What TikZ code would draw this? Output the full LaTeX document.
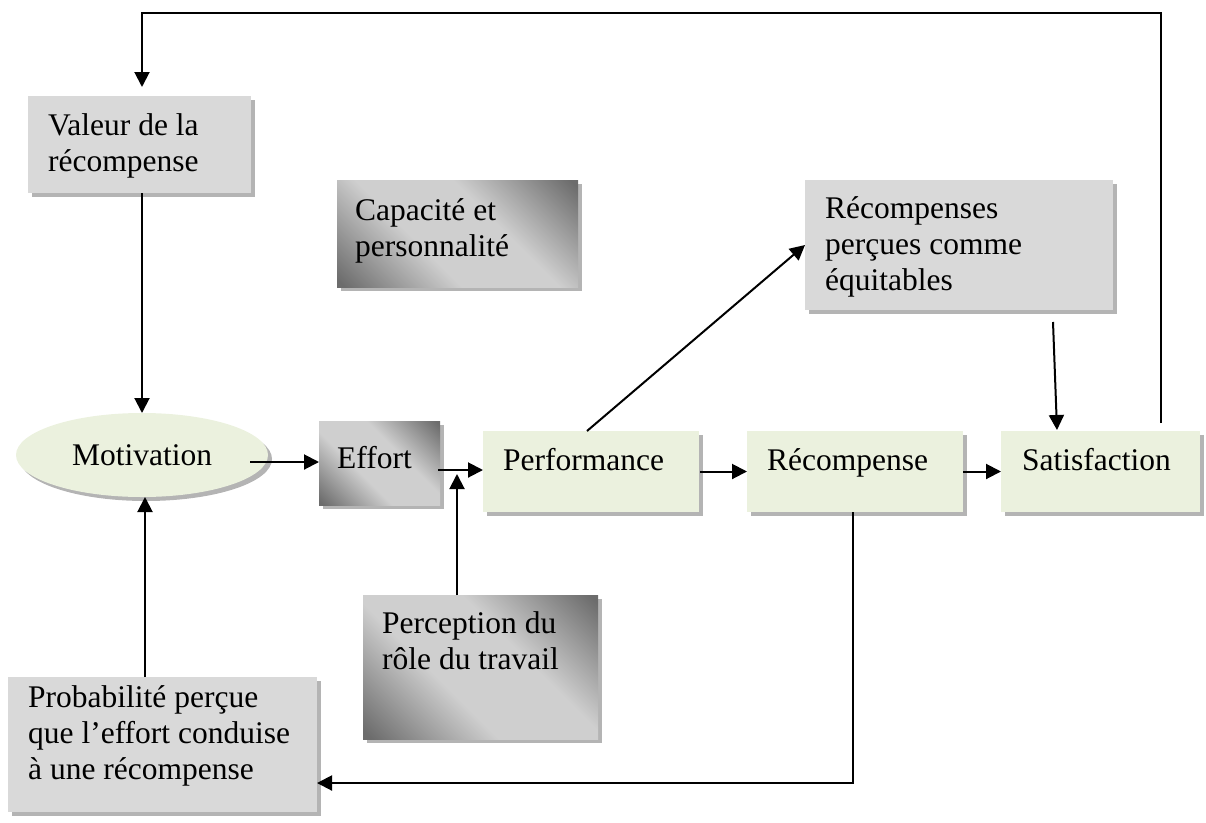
\documentclass[tikz,border=0pt]{standalone}
\usepackage{fontspec}
\setmainfont{Liberation Serif}
\usetikzlibrary{arrows.meta,calc,shapes.geometric,shadows}

\definecolor{boxgray}{HTML}{D9D9D9}
\definecolor{boxgreen}{HTML}{EBF1DE}
\definecolor{shadowgray}{HTML}{B4B4B4}
\definecolor{gradlight}{HTML}{CFCFCF}
\definecolor{graddark}{HTML}{6C6C6C}

% light band along the box diagonal, dark corners
\pgfdeclareverticalshading{cornershade}{100bp}{%
  color(0bp)=(graddark); color(16bp)=(graddark); color(40bp)=(gradlight);
  color(60bp)=(gradlight); color(84bp)=(graddark); color(100bp)=(graddark)}

\newcommand{\boxlines}[1]{\begin{tabular}[t]{@{}l@{}}#1\end{tabular}}

\tikzset{
  plate/.style={anchor=north west, inner sep=0pt, outer sep=0pt,
    general shadow={fill=shadowgray, shadow xshift=4pt, shadow yshift=-4pt}},
  graybox/.style={plate, fill=boxgray},
  greenbox/.style={plate, fill=boxgreen},
  gradbox/.style={plate, shading=cornershade, shading angle=-45},
  boxtext/.style={anchor=base west, inner sep=0pt,
    font=\fontsize{31.5}{36}\selectfont},
  arr/.style={line width=2pt, -{Triangle[length=15pt,width=15pt]}},
}

\begin{document}
\begin{tikzpicture}[x=1pt,y=-1pt]
\useasboundingbox (0,0) rectangle (1206,822);

% boxes
\node[graybox, minimum width=223pt, minimum height=97pt]  (valeur)  at (28,96)   {};
\node[gradbox, minimum width=241pt, minimum height=107pt] (capacite) at (337,180) {};
\node[graybox, minimum width=308pt, minimum height=130pt] (recperc) at (805,180)  {};
\node[ellipse, fill=boxgreen, minimum width=252pt, minimum height=84pt,
      inner sep=0pt, outer sep=0pt,
      general shadow={fill=shadowgray, shadow xshift=4pt, shadow yshift=-4pt},
      font=\fontsize{31.5}{36}\selectfont] (motiv) at (142,455) {Motivation};
\node[gradbox, minimum width=121pt, minimum height=84pt]  (effort)  at (319,421)  {};
\node[greenbox, minimum width=216pt, minimum height=81pt] (perf)    at (483,431)  {};
\node[greenbox, minimum width=216pt, minimum height=81pt] (recomp)  at (747,431)  {};
\node[greenbox, minimum width=199pt, minimum height=81pt] (satis)   at (1001,431) {};
\node[gradbox, minimum width=235pt, minimum height=144pt] (percep)  at (363,595)  {};
\node[graybox, minimum width=309pt, minimum height=135pt] (proba)   at (8,677)    {};

% box texts
\node[boxtext] (valeurtxt) at ($(valeur.north west)+(20,39)$) {\boxlines{Valeur de la\\récompense}};
\node[boxtext] (capacitetxt) at ($(capacite.north west)+(18,40)$) {\boxlines{Capacité et\\personnalité}};
\node[boxtext] (recperctxt) at ($(recperc.north west)+(20,38)$) {\boxlines{Récompenses\\perçues comme\\équitables}};
\node[boxtext] (efforttxt) at ($(effort.north west)+(18,47)$) {Effort};
\node[boxtext] (perftxt) at ($(perf.north west)+(20,39)$) {Performance};
\node[boxtext] (recomptxt) at ($(recomp.north west)+(20,39)$) {Récompense};
\node[boxtext] (satistxt) at ($(satis.north west)+(21,39)$) {Satisfaction};
\node[boxtext] (perceptxt) at ($(percep.north west)+(19,38)$) {\boxlines{Perception du\\rôle du travail}};
\node[boxtext] (probatxt) at ($(proba.north west)+(20,30)$) {\boxlines{Probabilité perçue\\que l’effort conduise\\à une récompense}};

% feedback loop from satisfaction back to the value of the reward
\coordinate (fbstart) at ($(satis.north west)+(160,-8)$);
\coordinate (fbtr) at (fbstart |- 0,13);
\coordinate (fbtl) at (142,13);
\draw[arr] (fbstart) -- (fbtr) -- (fbtl) -- ($(valeur.north -| fbtl)+(0,-9)$);

% value of reward -> motivation
\draw[arr] (valeur.south -| motiv.north) -- (motiv.north);

% performance -> perceived equitable rewards
\draw[arr] ($(perf.north west)+(104,0)$) -- (recperc.west);

% perceived equitable rewards -> satisfaction
\draw[arr] ($(recperc.south west)+(248,12)$) -- ($(satis.north west)+(56,-1)$);

% main chain
\coordinate (m1) at ($(motiv.east)+(-18,7)$);
\draw[arr] (m1) -- (m1 -| effort.west);
\coordinate (e1) at ($(effort.east)+(-2,7)$);
\draw[arr] (e1) -- (e1 -| perf.west);
\coordinate (p1) at ($(percep.north west)+(94,0)$);
\draw[arr] (p1) -- ($(p1)+(0,-121)$);
\draw[arr] ($(perf.east)+(1,0)$) -- (recomp.west);
\draw[arr] (recomp.east) -- (satis.west);

% reward -> perceived probability
\coordinate (r1) at ($(recomp.south west)+(106,0)$);
\coordinate (r2) at ($(r1)+(0,271)$);
\draw[arr] (r1) -- (r2) -- (r2 -| proba.east);

% perceived probability -> motivation
\coordinate (q1) at ($(proba.north west)+(137,0)$);
\draw[arr] (q1) -- (q1 |- motiv.south);
\end{tikzpicture}
\end{document}
